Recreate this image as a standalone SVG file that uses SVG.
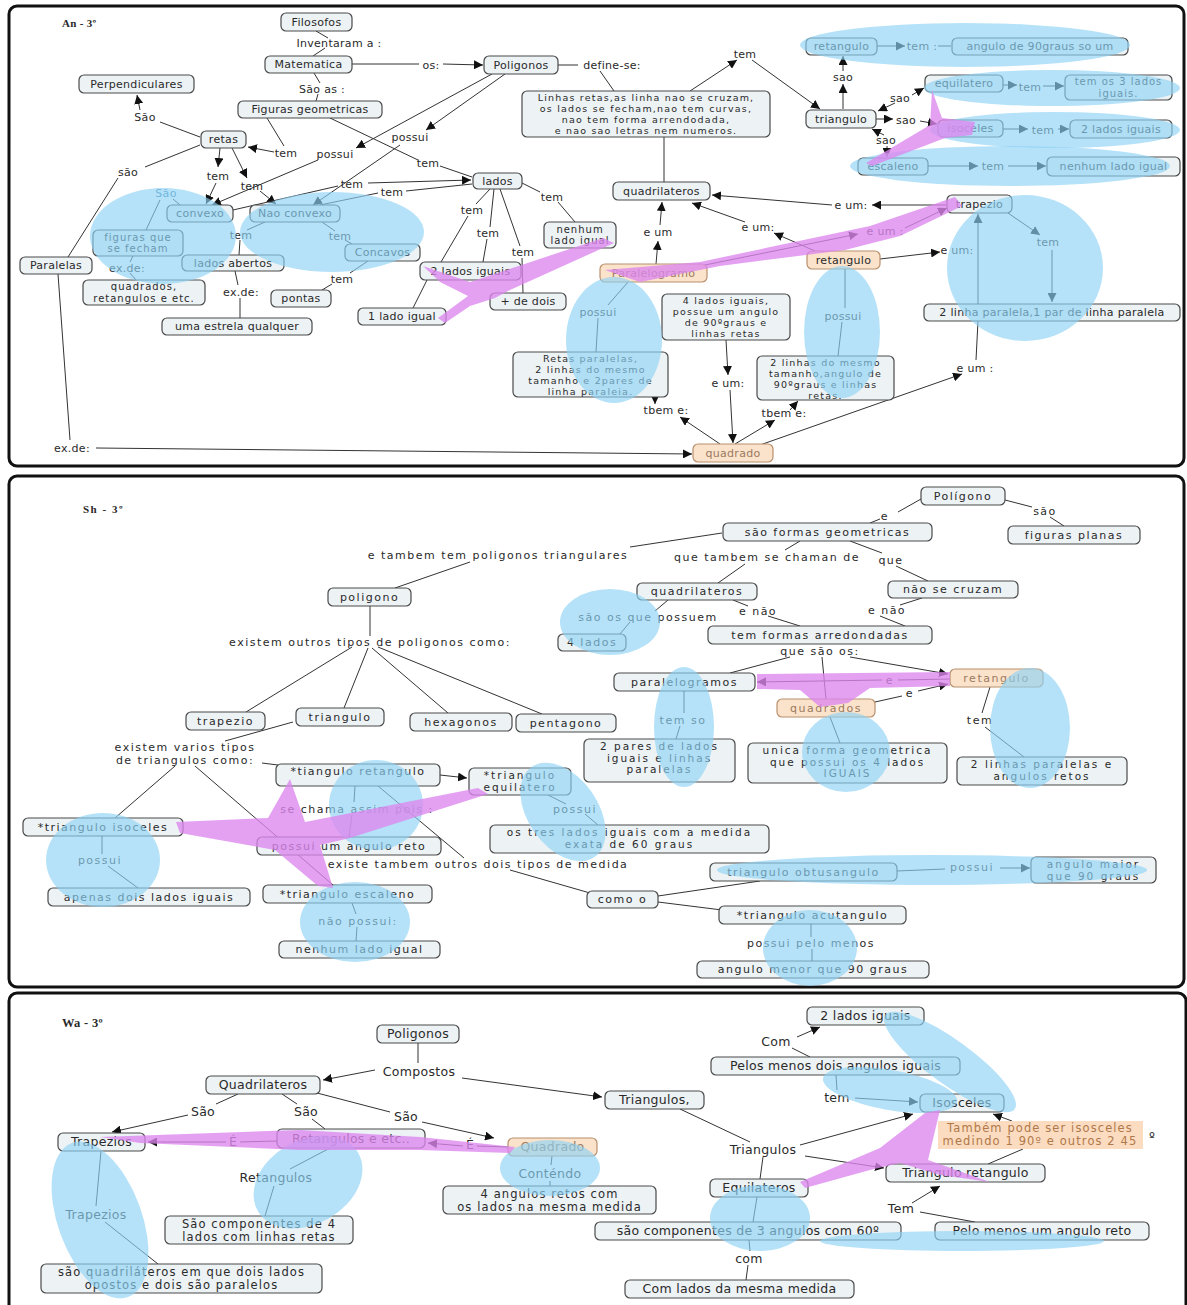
<svg xmlns="http://www.w3.org/2000/svg" width="1187" height="1305" viewBox="0 0 1187 1305">
<defs>
<marker id="ar" viewBox="0 0 10 10" refX="10" refY="5" markerWidth="9" markerHeight="9" orient="auto" markerUnits="userSpaceOnUse"><path d="M0,0 L10,5 L0,10 z" fill="#111"/></marker>
<style>
text{font-family:"DejaVu Sans",Verdana,sans-serif;font-size:11px;fill:#2a2a2a;text-anchor:middle}
.p1 text{font-size:11px;letter-spacing:.3px}
.p2 text{font-size:11px;letter-spacing:1.5px}
.p3 text{font-size:12.5px;letter-spacing:.3px}
.p1 text.m4{font-size:9.5px;letter-spacing:1.2px}
.p1 text.m2{font-size:10px;letter-spacing:1px}
.p2 text.m2{font-size:10.5px;letter-spacing:2px}
.p3 text.m2{font-size:11.5px;letter-spacing:1.1px}
.tag{font-family:"Liberation Serif",serif;font-weight:bold;font-size:9px;text-anchor:start;letter-spacing:0}
.n{fill:#edf2f5;stroke:#4a4a4a;stroke-width:1.2}
.h{fill:#fbe2ca;stroke:#b8906e;stroke-width:1.2}
.c line{stroke:#333;stroke-width:1}
.ar{marker-end:url(#ar)}
.b{fill:#8ed2f4;fill-opacity:.65}
.m{fill:#dc86ee;fill-opacity:.78}
.fr{fill:#fff;stroke:#111;stroke-width:3}
</style>
</defs>
<rect width="1187" height="1305" fill="#fff"/>
<rect class="fr" x="9" y="6" width="1175" height="460" rx="8"/>
<rect class="fr" x="9" y="476" width="1175" height="511" rx="8"/>
<rect class="fr" x="9" y="993" width="1177" height="330" rx="8"/>

<!-- ================= PANEL 1 ================= -->
<g class="p1">
<text class="tag" x="62" y="27">An - 3º</text>
<g id="p1-connectors" class="c">
<line x1="316" y1="31" x2="328" y2="38"/>
<line x1="325" y1="48" x2="313" y2="56"/>
<line x1="352" y1="64" x2="419" y2="64"/>
<line class="ar" x1="443" y1="64" x2="483" y2="65"/>
<line x1="558" y1="65" x2="578" y2="65"/>
<line x1="600" y1="71" x2="614" y2="91"/>
<line x1="314" y1="73" x2="320" y2="83"/>
<line x1="318" y1="94" x2="316" y2="101"/>
<line class="ar" x1="690" y1="91" x2="737" y2="60"/>
<line class="ar" x1="752" y1="60" x2="820" y2="109"/>
<line class="ar" x1="843" y1="109" x2="843" y2="84"/>
<line class="ar" x1="843" y1="71" x2="843" y2="56"/>
<line class="ar" x1="877" y1="46" x2="905" y2="46"/>
<line x1="938" y1="46" x2="951" y2="46"/>
<line class="ar" x1="895" y1="103" x2="878" y2="111"/>
<line class="ar" x1="912" y1="95" x2="924" y2="88"/>
<line class="ar" x1="1003" y1="85" x2="1017" y2="85"/>
<line class="ar" x1="1043" y1="86" x2="1064" y2="86"/>
<line class="ar" x1="876" y1="119" x2="893" y2="119"/>
<line class="ar" x1="920" y1="121" x2="937" y2="124"/>
<line class="ar" x1="1003" y1="129" x2="1028" y2="129"/>
<line class="ar" x1="1058" y1="129" x2="1069" y2="129"/>
<line class="ar" x1="884" y1="135" x2="872" y2="129"/>
<line class="ar" x1="887" y1="146" x2="887" y2="157"/>
<line class="ar" x1="928" y1="166" x2="978" y2="166"/>
<line class="ar" x1="1008" y1="166" x2="1046" y2="166"/>
<line x1="664" y1="137" x2="664" y2="182"/>
<line class="ar" x1="946" y1="205" x2="872" y2="205"/>
<line class="ar" x1="832" y1="205" x2="712" y2="195"/>
<line class="ar" x1="815" y1="251" x2="774" y2="233"/>
<line class="ar" x1="745" y1="222" x2="692" y2="203"/>
<line class="ar" x1="656" y1="264" x2="658" y2="241"/>
<line class="ar" x1="660" y1="225" x2="662" y2="202"/>
<line class="ar" x1="700" y1="266" x2="858" y2="234"/>
<line class="ar" x1="905" y1="228" x2="947" y2="208"/>
<line class="ar" x1="880" y1="259" x2="940" y2="252"/>
<line class="ar" x1="1008" y1="213" x2="1040" y2="235"/>
<line class="ar" x1="1052" y1="250" x2="1052" y2="302"/>
<line class="ar" x1="978" y1="304" x2="978" y2="214"/>
<line x1="978" y1="321" x2="976" y2="360"/>
<line class="ar" x1="760" y1="445" x2="962" y2="374"/>
<line x1="628" y1="282" x2="608" y2="305"/>
<line x1="598" y1="318" x2="596" y2="352"/>
<line class="ar" x1="726" y1="340" x2="728" y2="375"/>
<line class="ar" x1="730" y1="390" x2="733" y2="443"/>
<line x1="845" y1="269" x2="845" y2="308"/>
<line x1="842" y1="322" x2="838" y2="356"/>
<line class="ar" x1="655" y1="396" x2="655" y2="404"/>
<line class="ar" x1="720" y1="444" x2="680" y2="417"/>
<line class="ar" x1="735" y1="444" x2="775" y2="420"/>
<line class="ar" x1="790" y1="410" x2="798" y2="401"/>
<line x1="58" y1="274" x2="70" y2="440"/>
<line class="ar" x1="96" y1="448" x2="692" y2="454"/>
<line x1="200" y1="137" x2="160" y2="122"/>
<line class="ar" x1="140" y1="110" x2="137" y2="95"/>
<line x1="200" y1="145" x2="145" y2="167"/>
<line x1="118" y1="178" x2="68" y2="257"/>
<line x1="267" y1="118" x2="284" y2="146"/>
<line class="ar" x1="274" y1="152" x2="248" y2="147"/>
<line class="ar" x1="492" y1="74" x2="356" y2="148"/>
<line class="ar" x1="318" y1="160" x2="212" y2="205"/>
<line class="ar" x1="505" y1="74" x2="426" y2="130"/>
<line class="ar" x1="400" y1="145" x2="313" y2="205"/>
<line x1="330" y1="118" x2="418" y2="160"/>
<line x1="440" y1="166" x2="472" y2="177"/>
<line class="ar" x1="220" y1="148" x2="218" y2="167"/>
<line class="ar" x1="216" y1="183" x2="206" y2="204"/>
<line class="ar" x1="232" y1="148" x2="247" y2="178"/>
<line class="ar" x1="260" y1="191" x2="276" y2="204"/>
<line x1="233" y1="210" x2="338" y2="186"/>
<line class="ar" x1="368" y1="183" x2="471" y2="180"/>
<line x1="320" y1="205" x2="378" y2="193"/>
<line x1="406" y1="191" x2="472" y2="184"/>
<line x1="180" y1="205" x2="173" y2="199"/>
<line x1="160" y1="200" x2="146" y2="230"/>
<line x1="133" y1="256" x2="130" y2="262"/>
<line x1="130" y1="273" x2="136" y2="280"/>
<line x1="265" y1="222" x2="247" y2="230"/>
<line x1="240" y1="240" x2="239" y2="255"/>
<line x1="235" y1="271" x2="238" y2="285"/>
<line x1="240" y1="298" x2="240" y2="318"/>
<line x1="322" y1="222" x2="335" y2="231"/>
<line x1="345" y1="240" x2="352" y2="244"/>
<line x1="368" y1="261" x2="350" y2="273"/>
<line x1="332" y1="284" x2="322" y2="290"/>
<line x1="490" y1="189" x2="476" y2="204"/>
<line x1="468" y1="216" x2="441" y2="262"/>
<line x1="427" y1="280" x2="413" y2="308"/>
<line x1="494" y1="189" x2="490" y2="227"/>
<line x1="487" y1="239" x2="483" y2="262"/>
<line x1="500" y1="189" x2="520" y2="246"/>
<line x1="522" y1="258" x2="523" y2="293"/>
<line x1="522" y1="183" x2="540" y2="192"/>
<line x1="558" y1="202" x2="575" y2="222"/>
</g>
<g id="p1-labels">
<text x="339" y="47">Inventaram a :</text>
<text x="431" y="69">os:</text>
<text x="612" y="69">define-se:</text>
<text x="322" y="93">São as :</text>
<text x="745" y="58">tem</text>
<text x="843" y="81">sao</text>
<text x="922" y="50">tem :</text>
<text x="900" y="102">sao</text>
<text x="1030" y="91">tem</text>
<text x="906" y="124">sao</text>
<text x="1043" y="134">tem</text>
<text x="886" y="144">sao</text>
<text x="993" y="170">tem</text>
<text x="145" y="121">São</text>
<text x="286" y="157">tem</text>
<text x="335" y="158">possui</text>
<text x="410" y="141">possui</text>
<text x="428" y="167">tem</text>
<text x="128" y="176">são</text>
<text x="218" y="180">tem</text>
<text x="252" y="190">tem</text>
<text x="352" y="188">tem</text>
<text x="392" y="196">tem</text>
<text x="166" y="197" style="fill:#3a7fb0">São</text>
<text x="127" y="272">ex.de:</text>
<text x="241" y="239">tem</text>
<text x="241" y="296">ex.de:</text>
<text x="340" y="240">tem</text>
<text x="342" y="283">tem</text>
<text x="472" y="214">tem</text>
<text x="488" y="237">tem</text>
<text x="523" y="256">tem</text>
<text x="552" y="201">tem</text>
<text x="851" y="209">e um:</text>
<text x="758" y="231">e um:</text>
<text x="658" y="236">e um</text>
<text x="885" y="235">e um :</text>
<text x="957" y="254">e um:</text>
<text x="1048" y="246">tem</text>
<text x="598" y="316">possui</text>
<text x="843" y="320">possui</text>
<text x="728" y="387">e um:</text>
<text x="975" y="372">e um :</text>
<text x="666" y="414">tbem e:</text>
<text x="784" y="417">tbem e:</text>
<text x="72" y="452">ex.de:</text>
</g>
<g id="p1-filosofos"><rect class="n" x="281" y="13" width="71" height="18" rx="5"/><text x="316.5" y="25.7">Filosofos</text></g>
<g id="p1-matematica"><rect class="n" x="265" y="56" width="87" height="17" rx="5"/><text x="308.5" y="68.2">Matematica</text></g>
<g id="p1-poligonos"><rect class="n" x="484" y="56" width="74" height="18" rx="5"/><text x="521" y="68.7">Poligonos</text></g>
<g id="p1-definicao"><rect class="n" x="522" y="91" width="248" height="46" rx="5"/><text class="m4" x="646" y="101"><tspan x="646">Linhas retas,as linha nao se cruzam,</tspan><tspan x="646" dy="11">os lados se fecham,nao tem curvas,</tspan><tspan x="646" dy="11">nao tem forma arrendodada,</tspan><tspan x="646" dy="11">e nao sao letras nem numeros.</tspan></text></g>
<g id="p1-perpendiculares"><rect class="n" x="79" y="75" width="115" height="18" rx="5"/><text x="136.5" y="87.7">Perpendiculares</text></g>
<g id="p1-figuras"><rect class="n" x="238" y="101" width="144" height="17" rx="5"/><text x="310" y="113.2">Figuras geometricas</text></g>
<g id="p1-retas"><rect class="n" x="201" y="131" width="45" height="17" rx="5"/><text x="223.5" y="143.2">retas</text></g>
<g id="p1-triangulo"><rect class="n" x="806" y="110" width="70" height="18" rx="5"/><text x="841" y="122.7">triangulo</text></g>
<g id="p1-retangulo-top"><rect class="n" x="806" y="38" width="71" height="17" rx="5"/><text x="841.5" y="50.2">retangulo</text></g>
<g id="p1-angulo90"><rect class="n" x="952" y="38" width="176" height="17" rx="5"/><text x="1040" y="50.2">angulo de 90graus so um</text></g>
<g id="p1-equilatero"><rect class="n" x="925" y="75" width="78" height="17" rx="5"/><text x="964" y="87.2">equilatero</text></g>
<g id="p1-tem3"><rect class="n" x="1065" y="75" width="107" height="25" rx="5"/><text class="m2" x="1118.5" y="85"><tspan x="1118.5">tem os 3 lados</tspan><tspan x="1118.5" dy="11.5">iguais.</tspan></text></g>
<g id="p1-isoceles"><rect class="n" x="938" y="120" width="65" height="17" rx="5"/><text x="970.5" y="132.2">isoceles</text></g>
<g id="p1-2lados-a"><rect class="n" x="1070" y="120" width="102" height="18" rx="5"/><text x="1121" y="132.7">2 lados iguais</text></g>
<g id="p1-escaleno"><rect class="n" x="858" y="158" width="70" height="17" rx="5"/><text x="893" y="170.2">escaleno</text></g>
<g id="p1-nenhum-a"><rect class="n" x="1047" y="157" width="133" height="19" rx="5"/><text x="1113.5" y="170.2">nenhum lado igual</text></g>
<g id="p1-quadrilateros"><rect class="n" x="613" y="182" width="97" height="18" rx="5"/><text x="661.5" y="194.7">quadrilateros</text></g>
<g id="p1-trapezio"><rect class="n" x="947" y="195" width="65" height="18" rx="5"/><text x="979.5" y="207.7">trapezio</text></g>
<g id="p1-paralelogramo"><rect class="h" x="600" y="264" width="107" height="18" rx="5"/><text x="653.5" y="276.7" style="fill:#9a7a60">Paralelogramo</text></g>
<g id="p1-retangulo-mid"><rect class="h" x="807" y="251" width="73" height="18" rx="5"/><text x="843.5" y="263.7">retangulo</text></g>
<g id="p1-4lados"><rect class="n" x="662" y="294" width="128" height="46" rx="5"/><text class="m4" x="726" y="304"><tspan x="726">4 lados iguais,</tspan><tspan x="726" dy="11">possue um angulo</tspan><tspan x="726" dy="11">de 90ºgraus e</tspan><tspan x="726" dy="11">linhas retas</tspan></text></g>
<g id="p1-retaspar"><rect class="n" x="513" y="352" width="155" height="45" rx="5"/><text class="m4" x="590.5" y="362"><tspan x="590.5">Retas paralelas,</tspan><tspan x="590.5" dy="11">2 linhas do mesmo</tspan><tspan x="590.5" dy="11">tamanho e 2pares de</tspan><tspan x="590.5" dy="11">linha paraleia.</tspan></text></g>
<g id="p1-2linhas"><rect class="n" x="757" y="356" width="137" height="44" rx="5"/><text class="m4" x="825.5" y="366"><tspan x="825.5">2 linhas do mesmo</tspan><tspan x="825.5" dy="11">tamanho,angulo de</tspan><tspan x="825.5" dy="11">90ºgraus e linhas</tspan><tspan x="825.5" dy="11">retas.</tspan></text></g>
<g id="p1-2linhapar"><rect class="n" x="924" y="304" width="256" height="17" rx="5"/><text x="1052" y="316.2">2 linha paralela,1 par de linha paralela</text></g>
<g id="p1-quadrado"><rect class="h" x="693" y="444" width="80" height="18" rx="5"/><text x="733" y="456.7" style="fill:#9a7a60">quadrado</text></g>
<g id="p1-paralelas"><rect class="n" x="20" y="257" width="72" height="17" rx="5"/><text x="56" y="269.2">Paralelas</text></g>
<g id="p1-convexo"><rect class="n" x="167" y="205" width="66" height="17" rx="5"/><text x="200" y="217.2">convexo</text></g>
<g id="p1-naoconvexo"><rect class="n" x="250" y="205" width="90" height="17" rx="5"/><text x="295" y="217.2">Nao convexo</text></g>
<g id="p1-figurasque"><rect class="n" x="93" y="230" width="90" height="26" rx="5"/><text class="m2" x="138" y="240.5"><tspan x="138">figuras que</tspan><tspan x="138" dy="11.5">se fecham</tspan></text></g>
<g id="p1-quadrados-ex"><rect class="n" x="83" y="280" width="122" height="25" rx="5"/><text class="m2" x="144" y="290"><tspan x="144">quadrados,</tspan><tspan x="144" dy="11.5">retangulos e etc.</tspan></text></g>
<g id="p1-ladosabertos"><rect class="n" x="182" y="255" width="102" height="16" rx="5"/><text x="233" y="266.7">lados abertos</text></g>
<g id="p1-estrela"><rect class="n" x="162" y="318" width="150" height="17" rx="5"/><text x="237" y="330.2">uma estrela qualquer</text></g>
<g id="p1-concavos"><rect class="n" x="345" y="244" width="75" height="17" rx="5"/><text x="382.5" y="256.2">Concavos</text></g>
<g id="p1-pontas"><rect class="n" x="271" y="290" width="60" height="17" rx="5"/><text x="301" y="302.2">pontas</text></g>
<g id="p1-lados"><rect class="n" x="473" y="173" width="49" height="16" rx="5"/><text x="497.5" y="184.7">lados</text></g>
<g id="p1-1lado"><rect class="n" x="358" y="308" width="88" height="17" rx="5"/><text x="402" y="320.2">1 lado igual</text></g>
<g id="p1-2lados-b"><rect class="n" x="420" y="262" width="101" height="18" rx="5"/><text x="470.5" y="274.7">2 lados iguais</text></g>
<g id="p1-mais2"><rect class="n" x="490" y="293" width="76" height="17" rx="5"/><text x="528" y="305.2">+ de dois</text></g>
<g id="p1-nenhum-b"><rect class="n" x="544" y="222" width="72" height="26" rx="5"/><text class="m2" x="580" y="232.5"><tspan x="580">nenhum</tspan><tspan x="580" dy="11.5">lado igual</tspan></text></g>
<g id="p1-highlights">
<ellipse class="b" cx="965" cy="45" rx="165" ry="22"/>
<ellipse class="b" cx="1052" cy="88" rx="128" ry="18"/>
<ellipse class="b" cx="1055" cy="130" rx="125" ry="18"/>
<ellipse class="b" cx="1010" cy="166" rx="160" ry="20"/>
<ellipse class="b" cx="1025" cy="268" rx="78" ry="73"/>
<ellipse class="b" cx="163" cy="236" rx="73" ry="48"/>
<ellipse class="b" cx="332" cy="232" rx="92" ry="40"/>
<ellipse class="b" cx="614" cy="340" rx="48" ry="63"/>
<ellipse class="b" cx="842" cy="332" rx="38" ry="66"/>
<polygon class="m" points="932,90 942,118 975,122 972,135 945,138 872,166 866,163 930,125"/>
<polygon class="m" points="423,266 470,282 603,238 614,243 510,290 495,298 470,306 445,323 438,318 468,296 440,282"/>
<polygon class="m" points="605,270 700,262 870,226 955,197 962,206 900,236 845,250 720,266 640,282"/>
</g>
</g>

<!-- ================= PANEL 2 ================= -->
<g class="p2">
<text class="tag" x="83" y="513">Sh - 3º</text>
<g id="p2-connectors" class="c">
<line x1="921" y1="499" x2="898" y2="512"/>
<line x1="880" y1="519" x2="870" y2="523"/>
<line x1="1005" y1="500" x2="1032" y2="507"/>
<line x1="1050" y1="517" x2="1064" y2="526"/>
<line x1="722" y1="533" x2="630" y2="547"/>
<line x1="470" y1="562" x2="395" y2="588"/>
<line x1="800" y1="541" x2="785" y2="550"/>
<line x1="745" y1="564" x2="718" y2="583"/>
<line x1="850" y1="541" x2="882" y2="553"/>
<line x1="896" y1="566" x2="928" y2="581"/>
<line x1="733" y1="600" x2="748" y2="606"/>
<line x1="768" y1="616" x2="800" y2="626"/>
<line x1="922" y1="598" x2="900" y2="605"/>
<line x1="880" y1="616" x2="905" y2="626"/>
<line x1="668" y1="600" x2="655" y2="611"/>
<line x1="630" y1="622" x2="620" y2="634"/>
<line x1="790" y1="657" x2="730" y2="673"/>
<line x1="822" y1="657" x2="826" y2="699"/>
<line class="ar" x1="850" y1="657" x2="948" y2="674"/>
<line x1="950" y1="679" x2="898" y2="680"/>
<line class="ar" x1="882" y1="680" x2="757" y2="682"/>
<line x1="875" y1="702" x2="902" y2="696"/>
<line class="ar" x1="918" y1="691" x2="948" y2="684"/>
<line x1="684" y1="691" x2="684" y2="713"/>
<line x1="680" y1="726" x2="676" y2="739"/>
<line x1="830" y1="717" x2="840" y2="743"/>
<line x1="990" y1="687" x2="982" y2="713"/>
<line x1="985" y1="727" x2="1024" y2="757"/>
<line x1="370" y1="606" x2="370" y2="636"/>
<line x1="352" y1="647" x2="246" y2="712"/>
<line x1="368" y1="648" x2="344" y2="708"/>
<line x1="372" y1="648" x2="448" y2="713"/>
<line x1="378" y1="647" x2="542" y2="714"/>
<line x1="293" y1="722" x2="225" y2="741"/>
<line x1="262" y1="763" x2="278" y2="765"/>
<line x1="175" y1="766" x2="115" y2="818"/>
<line x1="195" y1="766" x2="333" y2="885"/>
<line class="ar" x1="440" y1="775" x2="467" y2="778"/>
<line x1="355" y1="786" x2="354" y2="802"/>
<line x1="352" y1="815" x2="349" y2="837"/>
<line x1="378" y1="786" x2="464" y2="858"/>
<line x1="510" y1="870" x2="590" y2="893"/>
<line x1="548" y1="795" x2="566" y2="804"/>
<line x1="585" y1="814" x2="598" y2="825"/>
<line x1="102" y1="836" x2="102" y2="854"/>
<line x1="108" y1="866" x2="138" y2="888"/>
<line x1="352" y1="903" x2="356" y2="914"/>
<line x1="357" y1="927" x2="356" y2="941"/>
<line x1="658" y1="896" x2="760" y2="881"/>
<line x1="658" y1="902" x2="722" y2="910"/>
<line x1="897" y1="871" x2="945" y2="869"/>
<line class="ar" x1="1000" y1="868" x2="1030" y2="868"/>
<line x1="811" y1="924" x2="811" y2="937"/>
<line x1="812" y1="949" x2="812" y2="961"/>
</g>
<g id="p2-labels">
<text x="885" y="520">e</text>
<text x="1045" y="515">são</text>
<text x="498" y="559">e tambem tem poligonos triangulares</text>
<text x="767" y="561">que tambem se chaman de</text>
<text x="891" y="564">que</text>
<text x="758" y="615">e não</text>
<text x="887" y="614">e não</text>
<text x="648" y="621">são os que possuem</text>
<text x="820" y="655">que são os:</text>
<text x="890" y="684">e</text>
<text x="910" y="697">e</text>
<text x="683" y="724">tem so</text>
<text x="980" y="724">tem</text>
<text x="370" y="646">existem outros tipos de poligonos como:</text>
<text x="185" y="751"><tspan x="185">existem varios tipos</tspan><tspan x="185" dy="12.5">de triangulos como:</tspan></text>
<text x="357" y="813">se chama assim pois :</text>
<text x="575" y="813">possui</text>
<text x="100" y="864">possui</text>
<text x="478" y="868">existe tambem outros dois tipos de medida</text>
<text x="358" y="925">não possui:</text>
<text x="972" y="871">possui</text>
<text x="811" y="947">possui pelo menos</text>
</g>
<g id="p2-poligono-top"><rect class="n" x="921" y="487" width="84" height="18" rx="5"/><text x="963" y="499.7">Polígono</text></g>
<g id="p2-formas"><rect class="n" x="723" y="523" width="209" height="18" rx="5"/><text x="827.5" y="535.7">são formas  geometricas</text></g>
<g id="p2-planas"><rect class="n" x="1008" y="526" width="132" height="18" rx="5"/><text x="1074" y="538.7">figuras planas</text></g>
<g id="p2-quadrilateros"><rect class="n" x="637" y="583" width="120" height="17" rx="5"/><text x="697" y="595.2">quadrilateros</text></g>
<g id="p2-naocruzam"><rect class="n" x="888" y="581" width="130" height="17" rx="5"/><text x="953" y="593.2">não se cruzam</text></g>
<g id="p2-arredondadas"><rect class="n" x="708" y="626" width="224" height="18" rx="5"/><text x="820" y="638.7">tem formas arredondadas</text></g>
<g id="p2-4lados"><rect class="n" x="558" y="634" width="68" height="17" rx="5"/><text x="592" y="646.2">4 lados</text></g>
<g id="p2-paralelogramos"><rect class="n" x="614" y="673" width="141" height="18" rx="5"/><text x="684.5" y="685.7">paralelogramos</text></g>
<g id="p2-retangulo"><rect class="h" x="950" y="669" width="93" height="18" rx="5"/><text x="996.5" y="681.7" style="fill:#9a7a60">retangulo</text></g>
<g id="p2-quadrados"><rect class="h" x="777" y="699" width="98" height="18" rx="5"/><text x="826" y="711.7" style="fill:#9a7a60">quadrados</text></g>
<g id="p2-2pares"><rect class="n" x="584" y="739" width="151" height="43" rx="5"/><text class="m2" x="659.5" y="750"><tspan x="659.5">2 pares de lados</tspan><tspan x="659.5" dy="11.5">iguais e linhas</tspan><tspan x="659.5" dy="11.5">paralelas</tspan></text></g>
<g id="p2-unica"><rect class="n" x="748" y="743" width="199" height="40" rx="5"/><text class="m2" x="847.5" y="754"><tspan x="847.5">unica forma geometrica</tspan><tspan x="847.5" dy="11.5">que possui os 4 lados</tspan><tspan x="847.5" dy="11.5">IGUAIS</tspan></text></g>
<g id="p2-2linhas"><rect class="n" x="957" y="757" width="170" height="28" rx="5"/><text class="m2" x="1042" y="768"><tspan x="1042">2 linhas paralelas e</tspan><tspan x="1042" dy="12">angulos retos</tspan></text></g>
<g id="p2-poligono"><rect class="n" x="328" y="588" width="83" height="18" rx="5"/><text x="369.5" y="600.7">poligono</text></g>
<g id="p2-trapezio"><rect class="n" x="186" y="712" width="79" height="18" rx="5"/><text x="225.5" y="724.7">trapezio</text></g>
<g id="p2-triangulo"><rect class="n" x="296" y="708" width="88" height="18" rx="5"/><text x="340" y="720.7">triangulo</text></g>
<g id="p2-hexagonos"><rect class="n" x="410" y="713" width="102" height="18" rx="5"/><text x="461" y="725.7">hexagonos</text></g>
<g id="p2-pentagono"><rect class="n" x="516" y="714" width="100" height="18" rx="5"/><text x="566" y="726.7">pentagono</text></g>
<g id="p2-tretangulo"><rect class="n" x="276" y="764" width="164" height="22" rx="5"/><text x="358" y="775">*tiangulo retangulo</text></g>
<g id="p2-tequilatero"><rect class="n" x="469" y="768" width="102" height="27" rx="5"/><text class="m2" x="520" y="779"><tspan x="520">*triangulo</tspan><tspan x="520" dy="12">equilatero</tspan></text></g>
<g id="p2-tisoceles"><rect class="n" x="23" y="818" width="160" height="18" rx="5"/><text x="103" y="830.7">*triangulo isoceles</text></g>
<g id="p2-possuiangulo"><rect class="n" x="257" y="837" width="184" height="18" rx="5"/><text x="349" y="849.7">possui um angulo reto</text></g>
<g id="p2-trescomp"><rect class="n" x="490" y="825" width="279" height="28" rx="5"/><text class="m2" x="629.5" y="836"><tspan x="629.5">os tres lados iguais com a medida</tspan><tspan x="629.5" dy="12">exata de 60 graus</tspan></text></g>
<g id="p2-apenas"><rect class="n" x="48" y="888" width="202" height="18" rx="5"/><text x="149" y="900.7">apenas dois lados iguais</text></g>
<g id="p2-tescaleno"><rect class="n" x="263" y="885" width="169" height="18" rx="5"/><text x="347.5" y="897.7">*triangulo escaleno</text></g>
<g id="p2-nenhum"><rect class="n" x="279" y="941" width="161" height="17" rx="5"/><text x="359.5" y="953.2">nenhum lado igual</text></g>
<g id="p2-comoo"><rect class="n" x="587" y="891" width="71" height="17" rx="5"/><text x="622.5" y="903.2">como o</text></g>
<g id="p2-obtus"><rect class="n" x="710" y="863" width="187" height="18" rx="5"/><text x="803.5" y="875.7">triangulo obtusangulo</text></g>
<g id="p2-maior"><rect class="n" x="1031" y="857" width="125" height="26" rx="5"/><text class="m2" x="1093.5" y="867.5"><tspan x="1093.5">angulo maior</tspan><tspan x="1093.5" dy="12">que 90 graus</tspan></text></g>
<g id="p2-acut"><rect class="n" x="719" y="906" width="187" height="18" rx="5"/><text x="812.5" y="918.7">*triangulo acutangulo</text></g>
<g id="p2-menor"><rect class="n" x="697" y="961" width="232" height="17" rx="5"/><text x="813" y="973.2">angulo menor que 90 graus</text></g>
<g id="p2-highlights">
<ellipse class="b" cx="610" cy="622" rx="50" ry="33"/>
<ellipse class="b" cx="684" cy="727" rx="30" ry="60"/>
<ellipse class="b" cx="846" cy="752" rx="44" ry="40"/>
<ellipse class="b" cx="1030" cy="728" rx="40" ry="60"/>
<ellipse class="b" cx="376" cy="805" rx="47" ry="45"/>
<ellipse class="b" cx="563" cy="812" rx="35" ry="55" transform="rotate(-35 563 812)"/>
<ellipse class="b" cx="103" cy="860" rx="57" ry="47"/>
<ellipse class="b" cx="355" cy="922" rx="55" ry="40"/>
<ellipse class="b" cx="932" cy="870" rx="215" ry="15"/>
<ellipse class="b" cx="810" cy="948" rx="47" ry="38"/>
<polygon class="m" points="757,674 950,672 950,686 870,688 848,703 820,707 800,690 757,689"/>
<polygon class="m" points="290,779 305,822 478,788 488,794 350,838 320,845 333,888 318,886 275,850 180,833 176,822 268,818"/>
</g>
</g>

<!-- ================= PANEL 3 ================= -->
<g class="p3">
<text class="tag" x="62" y="1027">Wa - 3º</text>
<g id="p3-connectors" class="c">
<line x1="418" y1="1043" x2="418" y2="1063"/>
<line class="ar" x1="375" y1="1070" x2="323" y2="1080"/>
<line class="ar" x1="462" y1="1078" x2="602" y2="1097"/>
<line x1="238" y1="1094" x2="216" y2="1104"/>
<line class="ar" x1="188" y1="1115" x2="112" y2="1132"/>
<line x1="282" y1="1094" x2="297" y2="1104"/>
<line x1="312" y1="1119" x2="325" y2="1129"/>
<line x1="317" y1="1093" x2="390" y2="1112"/>
<line class="ar" x1="422" y1="1122" x2="494" y2="1138"/>
<line x1="277" y1="1141" x2="240" y2="1142"/>
<line class="ar" x1="226" y1="1142" x2="148" y2="1142"/>
<line x1="508" y1="1147" x2="477" y2="1146"/>
<line class="ar" x1="463" y1="1146" x2="428" y2="1143"/>
<line x1="330" y1="1148" x2="290" y2="1169"/>
<line x1="274" y1="1186" x2="265" y2="1216"/>
<line x1="101" y1="1151" x2="96" y2="1206"/>
<line x1="105" y1="1222" x2="158" y2="1264"/>
<line x1="552" y1="1156" x2="551" y2="1165"/>
<line x1="550" y1="1181" x2="550" y2="1186"/>
<line x1="680" y1="1109" x2="750" y2="1142"/>
<line class="ar" x1="800" y1="1145" x2="913" y2="1114"/>
<line class="ar" x1="805" y1="1156" x2="884" y2="1168"/>
<line x1="763" y1="1157" x2="760" y2="1179"/>
<line x1="810" y1="1057" x2="792" y2="1048"/>
<line class="ar" x1="797" y1="1037" x2="820" y2="1027"/>
<line x1="836" y1="1075" x2="837" y2="1090"/>
<line class="ar" x1="855" y1="1098" x2="918" y2="1102"/>
<line class="ar" x1="1012" y1="1121" x2="993" y2="1114"/>
<line x1="988" y1="1164" x2="1023" y2="1149"/>
<line x1="975" y1="1222" x2="920" y2="1212"/>
<line class="ar" x1="912" y1="1203" x2="940" y2="1186"/>
<line x1="757" y1="1197" x2="753" y2="1222"/>
<line x1="749" y1="1240" x2="750" y2="1251"/>
<line x1="748" y1="1265" x2="746" y2="1280"/>
</g>
<g id="p3-labels">
<text x="419" y="1076">Compostos</text>
<text x="203" y="1116">São</text>
<text x="306" y="1116">São</text>
<text x="406" y="1121">São</text>
<text x="233" y="1146">É</text>
<text x="470" y="1149">É</text>
<text x="276" y="1182">Retangulos</text>
<text x="96" y="1219">Trapezios</text>
<text x="550" y="1178">Conténdo</text>
<text x="763" y="1154">Triangulos</text>
<text x="776" y="1046">Com</text>
<text x="837" y="1102">tem</text>
<rect x="938" y="1121" width="205" height="28" fill="#fbdcc0"/>
<text class="m2" x="1040" y="1132" style="fill:#b0784a"><tspan x="1040">Também pode ser isosceles</tspan><tspan x="1040" dy="13">medindo 1 90º e outros 2 45</tspan></text>
<text x="1152" y="1141">º</text>
<text x="901" y="1213">Tem</text>
<text x="749" y="1263">com</text>
</g>
<g id="p3-poligonos"><rect class="n" x="377" y="1025" width="82" height="18" rx="5"/><text x="418" y="1038.4">Poligonos</text></g>
<g id="p3-quadrilateros"><rect class="n" x="206" y="1076" width="114" height="18" rx="5"/><text x="263" y="1089.4">Quadrilateros</text></g>
<g id="p3-triangulos"><rect class="n" x="605" y="1091" width="99" height="18" rx="5"/><text x="654.5" y="1104.4">Triangulos,</text></g>
<g id="p3-trapezios"><rect class="n" x="58" y="1133" width="87" height="18" rx="5"/><text x="101.5" y="1146.4">Trapezios</text></g>
<g id="p3-retangulos"><rect class="n" x="277" y="1129" width="148" height="19" rx="5"/><text x="351" y="1143">Retangulos e etc..</text></g>
<g id="p3-quadrado"><rect class="h" x="508" y="1138" width="89" height="18" rx="5"/><text x="552.5" y="1151.4" style="fill:#9a7a60">Quadrado</text></g>
<g id="p3-comp4"><rect class="n" x="165" y="1216" width="188" height="28" rx="5"/><text class="m2" x="259" y="1227.5"><tspan x="259">São componentes de 4</tspan><tspan x="259" dy="13">lados com linhas retas</tspan></text></g>
<g id="p3-saoquad"><rect class="n" x="41" y="1264" width="281" height="29" rx="5"/><text class="m2" x="181.5" y="1276"><tspan x="181.5">são quadriláteros em que dois lados</tspan><tspan x="181.5" dy="13">opostos e dois são paralelos</tspan></text></g>
<g id="p3-angretos"><rect class="n" x="443" y="1186" width="213" height="28" rx="5"/><text class="m2" x="549.5" y="1197.5"><tspan x="549.5">4 angulos retos com</tspan><tspan x="549.5" dy="13">os lados na mesma medida</tspan></text></g>
<g id="p3-2lados"><rect class="n" x="807" y="1007" width="117" height="18" rx="5"/><text x="865.5" y="1020.4">2 lados iguais</text></g>
<g id="p3-pelos"><rect class="n" x="711" y="1057" width="249" height="18" rx="5"/><text x="835.5" y="1070.4">Pelos menos dois angulos iguais</text></g>
<g id="p3-isosceles"><rect class="n" x="920" y="1094" width="84" height="18" rx="5"/><text x="962" y="1107.4">Isosceles</text></g>
<g id="p3-tretang"><rect class="n" x="886" y="1164" width="159" height="18" rx="5"/><text x="965.5" y="1177.4">Triangulo retangulo</text></g>
<g id="p3-equilateros"><rect class="n" x="710" y="1179" width="98" height="18" rx="5"/><text x="759" y="1192.4">Equilateros</text></g>
<g id="p3-comp3"><rect class="n" x="595" y="1222" width="306" height="18" rx="5"/><text x="748" y="1235.4">são componentes de 3 angulos com 60º</text></g>
<g id="p3-pelomenos"><rect class="n" x="935" y="1222" width="214" height="18" rx="5"/><text x="1042" y="1235.4">Pelo menos um angulo reto</text></g>
<g id="p3-comlados"><rect class="n" x="625" y="1280" width="229" height="18" rx="5"/><text x="739.5" y="1293.4">Com lados da mesma medida</text></g>
<g id="p3-highlights">
<ellipse class="b" cx="100" cy="1220" rx="42" ry="82" transform="rotate(-20 100 1220)"/>
<ellipse class="b" cx="308" cy="1182" rx="58" ry="42" transform="rotate(-30 308 1182)"/>
<ellipse class="b" cx="550" cy="1168" rx="50" ry="28"/>
<ellipse class="b" cx="950" cy="1062" rx="80" ry="22" transform="rotate(36 950 1062)"/>
<ellipse class="b" cx="890" cy="1090" rx="68" ry="20" transform="rotate(10 890 1090)"/>
<ellipse class="b" cx="760" cy="1218" rx="50" ry="33"/>
<ellipse class="b" cx="962" cy="1241" rx="142" ry="10"/>
<polygon class="m" points="100,1137 300,1130 420,1137 515,1147 510,1153 420,1150 300,1150 140,1143"/>
<polygon class="m" points="925,1113 940,1110 928,1160 990,1182 940,1175 900,1163 870,1170 805,1188 800,1182 880,1148"/>
</g>
</g>
</svg>
